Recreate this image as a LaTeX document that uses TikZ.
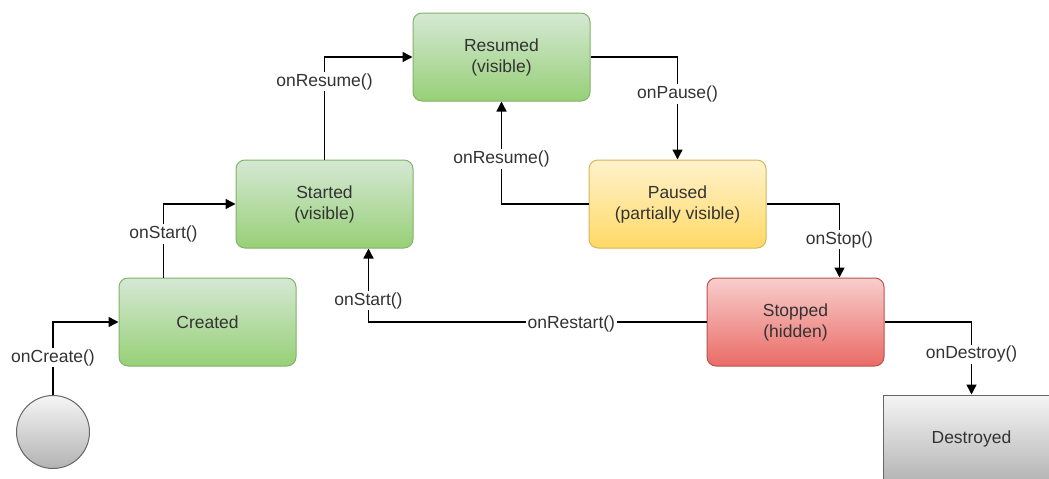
\documentclass[tikz,border=0pt]{standalone}
\usepackage{fontspec}
\setmainfont{Liberation Sans}
\usetikzlibrary{arrows.meta}
\definecolor{grnTop}{HTML}{D5E8D4}
\definecolor{grnBot}{HTML}{97D077}
\definecolor{grnLine}{HTML}{82B366}
\definecolor{ylwTop}{HTML}{FFF2CC}
\definecolor{ylwBot}{HTML}{FFD966}
\definecolor{ylwLine}{HTML}{D6B656}
\definecolor{redTop}{HTML}{F8CECC}
\definecolor{redBot}{HTML}{EA6B66}
\definecolor{redLine}{HTML}{B85450}
\definecolor{gryTop}{HTML}{F5F5F5}
\definecolor{gryBot}{HTML}{B3B3B3}
\definecolor{gryLine}{HTML}{666666}
\definecolor{txt}{HTML}{333333}
\begin{document}
\begin{tikzpicture}[x=1pt,y=-1pt,
  state/.style={rounded corners=9pt, minimum width=177pt, minimum height=88pt,
    inner sep=0pt, align=center, font=\fontsize{17.5}{21}\selectfont, text=txt, line width=1pt},
  gshade/.style={top color=grnTop, bottom color=grnBot, draw=grnLine},
  yshade/.style={top color=ylwTop, bottom color=ylwBot, draw=ylwLine},
  rshade/.style={top color=redTop, bottom color=redBot, draw=redLine},
  kshade/.style={top color=gryTop, bottom color=gryBot, draw=gryLine},
  lbl/.style={fill=white, inner sep=1.5pt, yshift=-2pt, font=\fontsize{17.5}{21}\selectfont, text=txt},
  conn/.style={line width=1.5pt, draw=black, -{Triangle[length=10pt,width=10pt]}}
]
\clip (0,0) rectangle (1049,479);
\fill[white] (0,0) rectangle (1049,479);

\node[state,gshade] (created) at (207.5,322) {Created};
\node[state,gshade] (started) at (324.5,204) {Started\\(visible)};
\node[state,gshade] (resumed) at (501.5,57) {Resumed\\(visible)};
\node[state,yshade] (paused) at (677.5,204) {Paused\\(partially visible)};
\node[state,rshade] (stopped) at (795.5,322) {Stopped\\(hidden)};
\node[state,kshade,rounded corners=0pt] (destroyed) at (971.5,439) {Destroyed};
\node[circle, minimum size=73pt, inner sep=0pt, kshade, line width=1pt] (init) at (53,432) {};

\draw[conn] (init.north) |- (created.west) node[lbl,pos=0.27] {onCreate()};
\draw[conn] ([xshift=-44pt]created.north) |- (started.west) node[lbl,pos=0.31] {onStart()};
\draw[conn] (started.north) |- (resumed.west) node[lbl,pos=0.39] {onResume()};
\draw[conn] (resumed.east) -| (paused.north) node[lbl,pos=0.67] {onPause()};
\draw[conn] (paused.west) -| (resumed.south) node[lbl,pos=0.73] {onResume()};
\draw[conn] (paused.east) -| ([xshift=44pt]stopped.north) node[lbl,pos=0.73] {onStop()};
\draw[conn] (stopped.west) -| ([xshift=44pt]started.south)
  node[lbl,pos=0.2] {onRestart()} node[lbl,pos=0.66] {onStart()};
\draw[conn] (stopped.east) -| (destroyed.north) node[lbl,pos=0.71] {onDestroy()};
\end{tikzpicture}
\end{document}
